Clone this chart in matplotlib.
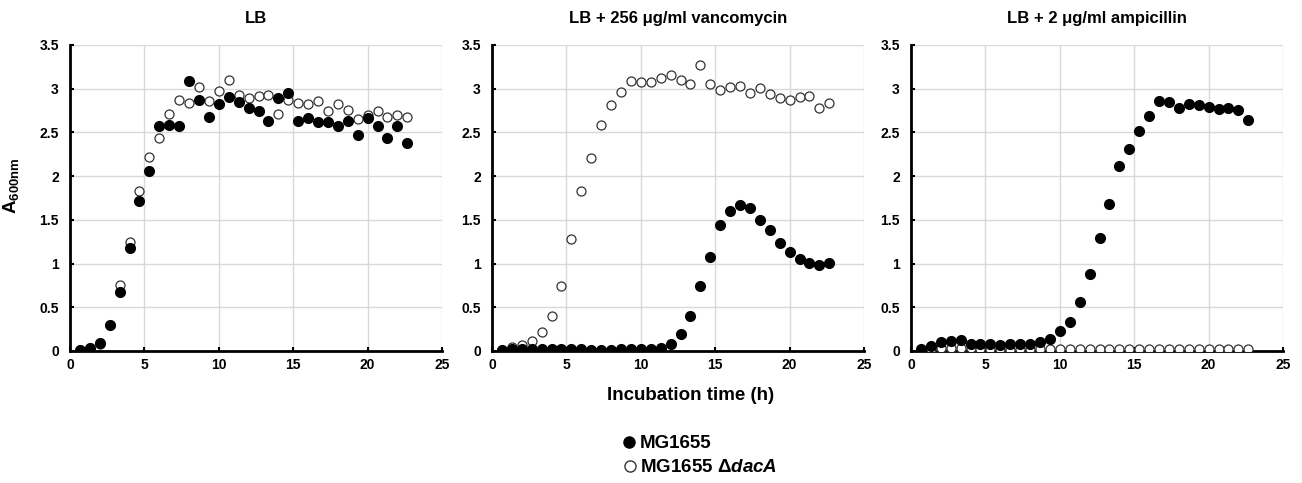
import matplotlib
matplotlib.use('Agg')
import matplotlib.pyplot as plt
from matplotlib.lines import Line2D

plt.rcParams['font.family'] = ['Liberation Sans', 'DejaVu Sans']
plt.rcParams['font.weight'] = 'bold'
plt.rcParams['mathtext.fontset'] = 'custom'
plt.rcParams['mathtext.rm'] = 'Liberation Sans:bold'
plt.rcParams['mathtext.bf'] = 'Liberation Sans:bold'
plt.rcParams['mathtext.it'] = 'Liberation Sans:bold:italic'

# Data
time_h = [0.67, 1.33, 2.0, 2.67, 3.33, 4.0, 4.67, 5.33, 6.0, 6.67, 7.33, 8.0,
          8.67, 9.33, 10.0, 10.67, 11.33, 12.0, 12.67, 13.33, 14.0, 14.67, 15.33,
          16.0, 16.67, 17.33, 18.0, 18.67, 19.33, 20.0, 20.67, 21.33, 22.0, 22.67]

titles = ['LB', 'LB + 256 μg/ml vancomycin', 'LB + 2 μg/ml ampicillin']
strains = ['MG1655', r'MG1655 $\mathit{Δ dacA}$']

# LB
lb_wt = [0.01, 0.04, 0.09, 0.30, 0.67, 1.18, 1.72, 2.06, 2.57, 2.58, 2.57, 3.09,
         2.87, 2.68, 2.83, 2.90, 2.85, 2.78, 2.75, 2.63, 2.89, 2.95, 2.63, 2.66,
         2.62, 2.62, 2.57, 2.63, 2.47, 2.66, 2.57, 2.44, 2.57, 2.38]
lb_dac = [0.01, 0.03, 0.08, 0.30, 0.75, 1.25, 1.83, 2.22, 2.44, 2.71, 2.87, 2.84,
          3.02, 2.86, 2.97, 3.10, 2.93, 2.89, 2.92, 2.93, 2.71, 2.87, 2.84, 2.83,
          2.86, 2.74, 2.82, 2.76, 2.65, 2.70, 2.75, 2.68, 2.70, 2.68]

# LB + vancomycin
van_wt = [0.01, 0.02, 0.02, 0.02, 0.02, 0.02, 0.02, 0.02, 0.02, 0.01, 0.01, 0.01,
          0.02, 0.02, 0.02, 0.02, 0.04, 0.08, 0.19, 0.40, 0.74, 1.07, 1.44, 1.60,
          1.67, 1.64, 1.50, 1.38, 1.24, 1.13, 1.05, 1.01, 0.98, 1.01]
van_dac = [0.01, 0.05, 0.07, 0.12, 0.22, 0.40, 0.74, 1.28, 1.83, 2.21, 2.59, 2.81,
           2.96, 3.09, 3.08, 3.08, 3.12, 3.16, 3.10, 3.05, 3.27, 3.05, 2.99, 3.02,
           3.03, 2.95, 3.01, 2.94, 2.89, 2.87, 2.91, 2.92, 2.78, 2.84]

# LB + ampicillin
amp_wt = [0.02, 0.06, 0.10, 0.11, 0.13, 0.08, 0.08, 0.08, 0.07, 0.08, 0.08, 0.08,
          0.10, 0.14, 0.23, 0.33, 0.56, 0.88, 1.29, 1.68, 2.12, 2.31, 2.52, 2.69,
          2.86, 2.85, 2.78, 2.82, 2.81, 2.79, 2.77, 2.78, 2.76, 2.64]
amp_dac = [0.01, 0.02, 0.03, 0.03, 0.03, 0.03, 0.02, 0.02, 0.02, 0.01, 0.02, 0.02,
           0.02, 0.02, 0.02, 0.02, 0.02, 0.02, 0.02, 0.02, 0.02, 0.02, 0.02, 0.02,
           0.02, 0.02, 0.02, 0.02, 0.02, 0.02, 0.02, 0.02, 0.02, 0.02]

wt_series = [lb_wt, van_wt, amp_wt]
dac_series = [lb_dac, van_dac, amp_dac]

fig = plt.figure(figsize=(13.02, 4.83), dpi=100)
lefts = [70, 492, 911]
W, H = 1302, 483

for i in range(3):
    ax = fig.add_axes([lefts[i] / W, 1 - 351 / H, 372 / W, 306 / H])
    ax.plot(time_h, dac_series[i], 'o', ms=6.5, mfc='white', mec='#333333', mew=0.9, zorder=3)
    ax.plot(time_h, wt_series[i], 'o', ms=7, mfc='black', mec='black', zorder=4)
    ax.set_xlim(0, 25)
    ax.set_ylim(0, 3.5)
    ax.set_xticks([0, 5, 10, 15, 20, 25])
    ax.set_yticks([0, 0.5, 1, 1.5, 2, 2.5, 3, 3.5])
    ax.set_yticklabels(['0', '0.5', '1', '1.5', '2', '2.5', '3', '3.5'])
    ax.grid(True, color='#d9d9d9', linewidth=1)
    ax.set_axisbelow(True)
    for s in ['top', 'right']:
        ax.spines[s].set_visible(False)
    for s in ['left', 'bottom']:
        ax.spines[s].set_linewidth(2)
    ax.tick_params(axis='both', labelsize=10, length=3, width=1.5, direction='in')
    ax.tick_params(axis='y', pad=8)
    ax.tick_params(axis='x', pad=5)
    for lab in ax.get_xticklabels() + ax.get_yticklabels():
        lab.set_fontweight('bold')
    ax.set_title(titles[i], fontsize=12, fontweight='bold', pad=16)
    if i == 0:
        ax.set_ylabel(r'A$_{\mathbf{600nm}}$', fontsize=13.5, fontweight='bold')
        ax.yaxis.set_label_coords(-0.132, 0.54)

fig.text(691 / W, 1 - 395 / H, 'Incubation time (h)', ha='center', va='center',
         fontsize=13.5, fontweight='bold')

# legend drawn by hand
leg_y = [442, 465.5]
fig.add_artist(Line2D([629 / W], [1 - leg_y[0] / H], ls='none', marker='o', ms=8,
                      mfc='black', mec='black', transform=fig.transFigure))
fig.add_artist(Line2D([629.5 / W], [1 - leg_y[1] / H], ls='none', marker='o', ms=8,
                      mfc='white', mec='#333333', mew=1, transform=fig.transFigure))
for k in range(2):
    fig.text(640 / W, 1 - leg_y[k] / H, strains[k], ha='left', va='center_baseline',
             fontsize=13.5, fontweight='bold')

fig.savefig('out.png', dpi=100)
